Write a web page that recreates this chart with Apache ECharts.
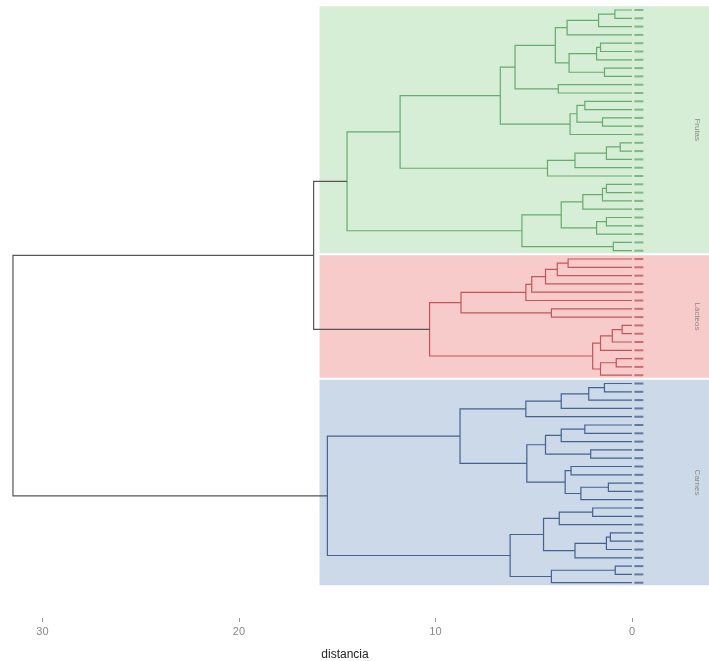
<!DOCTYPE html>
<html>
<head>
<meta charset="utf-8">
<script src="https://cdn.jsdelivr.net/npm/echarts@6/dist/echarts.min.js"></script>
<style>
  html, body { margin: 0; padding: 0; background: #fff; }
  #dend { width: 709px; height: 661px; }
</style>
</head>
<body>
<div id="dend"></div>
<script>
// sub-trees: a node is [upper, lower, height], a leaf is its row number (1 = top)
const greenTree = [
  [
    [
      [[[[[1, 2, 0.87], 3, 1.7], 4, 3.3], [[[5, 6, 1.6], 7, 1.8], [8, 9, 1.4], 3.2], 3.9], [10, 11, 3.75], 5.95],
      [[[12, 13, 2.4], [14, 15, 1.5], 2.8], 16, 3.15],
      6.7
    ],
    [[[[17, 18, 0.6], 19, 1.3], 20, 2.9], 21, 4.3],
    11.8
  ],
  [[[[[22, 23, 1.3], 24, 1.5], 25, 2.5], [[26, 27, 1.3], 28, 1.8], 3.6], [29, 30, 0.95], 5.6],
  14.5
]
const redTree = [
  [[[[[[31, 32, 3.25], 33, 3.8], 34, 4.4], 35, 5.1], 36, 5.4], [37, 38, 4.1], 8.7],
  [[[[39, 40, 0.5], 41, 1.0], 42, 1.6], [[43, 44, 0.8], 45, 1.6], 2.0],
  10.3
]
const blueTree = [
  [
    [[[[46, 47, 1.4], 48, 2.2], 49, 3.6], 50, 5.4],
    [[[[51, 52, 2.4], 53, 3.6], [54, 55, 2.1], 4.4], [[56, 57, 3.1], [[58, 59, 1.2], 60, 2.6], 3.4], 5.35],
    8.75
  ],
  [
    [[[61, 62, 2.0], 63, 3.7], [[[64, 65, 1.1], 66, 1.3], 67, 2.9], 4.5],
    [[68, 69, 0.85], 70, 4.1],
    6.2
  ],
  15.5
]
const upperHeight = 16.2   // green + red
const rootHeight = 31.5    // everything

const clusterNames = ['Frutas', 'Lácteos', 'Carnes']
const clusterFirst = [1, 31, 46]
const clusterLast = [30, 45, 70]
const rectHeight = 15.9
const xTicks = [0, 10, 20, 30]

const lineColors = ['#66ab6f', '#c2555b', '#46628f', '#555555']
const fillColors = ['#d5eed5', '#f8cbcb', '#cbd9e8']

// walk a tree and collect one segment per merge
const segments = []
function walk(node, ci) {
  if (typeof node === 'number') return { y: node, h: 0 }
  const a = walk(node[0], ci)
  const b = walk(node[1], ci)
  segments.push([node[2], a.y, b.y, a.h, b.h, ci])
  return { y: (a.y + b.y) / 2, h: node[2] }
}
const g = walk(greenTree, 0)
const r = walk(redTree, 1)
const bl = walk(blueTree, 2)
const up = { y: (g.y + r.y) / 2, h: upperHeight }
segments.push([upperHeight, g.y, r.y, g.h, r.h, 3])
segments.push([rootHeight, up.y, bl.y, up.h, bl.h, 3])

const leafPoints = []
for (let c = 0; c < 3; c++) {
  for (let k = clusterFirst[c]; k <= clusterLast[c]; k++) {
    leafPoints.push({ value: [-0.35, k], itemStyle: { color: lineColors[c] } })
  }
}
const rects = clusterNames.map(function (n, i) {
  return [clusterFirst[i] - 0.45, clusterLast[i] + 0.3, i]
})

const chart = echarts.init(document.getElementById('dend'))
chart.setOption({
  animation: false,
  grid: { left: 0, right: 0, top: 0, bottom: 43 },
  xAxis: {
    type: 'value',
    position: 'bottom',
    inverse: true,
    min: -3.92,
    max: 32.16,
    splitLine: { show: false },
    axisLine: { show: false, onZero: false },
    axisTick: { show: true, length: 4, customValues: xTicks, lineStyle: { color: '#999' } },
    axisLabel: { customValues: xTicks, color: '#8a8a8a', fontSize: 11, margin: 8, fontFamily: 'Liberation Sans' }
  },
  yAxis: {
    type: 'value',
    inverse: true,
    min: -0.205,
    max: 74.25,
    show: false
  },
  graphic: [{
    type: 'text',
    x: 345,
    y: 655,
    style: { text: 'distancia', fill: '#222', font: '12px "Liberation Sans"', align: 'center', verticalAlign: 'middle' }
  }],
  series: [
    {
      type: 'custom',
      z: 1,
      data: rects,
      encode: { x: [], y: [0, 1] },
      renderItem: function (params, api) {
        const i = api.value(2)
        const p1 = api.coord([rectHeight, api.value(0)])
        const p2 = api.coord([-3.92, api.value(1)])
        const mid = api.coord([-3.3, (api.value(0) + api.value(1)) / 2])
        return {
          type: 'group',
          children: [
            {
              type: 'rect',
              shape: { x: p1[0], y: p1[1], width: p2[0] - p1[0], height: p2[1] - p1[1] },
              style: { fill: fillColors[i] }
            },
            {
              type: 'text',
              x: mid[0],
              y: mid[1],
              rotation: -Math.PI / 2,
              style: {
                text: clusterNames[i],
                fill: '#8a8a8a',
                font: '8px "Liberation Sans"',
                align: 'center',
                verticalAlign: 'middle'
              }
            }
          ]
        }
      }
    },
    {
      type: 'custom',
      z: 3,
      data: segments,
      encode: { x: [0, 3, 4], y: [1, 2] },
      renderItem: function (params, api) {
        const h = api.value(0)
        const ya = api.value(1)
        const yb = api.value(2)
        const pts = [
          api.coord([api.value(3), ya]),
          api.coord([h, ya]),
          api.coord([h, yb]),
          api.coord([api.value(4), yb])
        ]
        return {
          type: 'polyline',
          shape: { points: pts },
          style: { stroke: lineColors[api.value(5)], lineWidth: 1.2, fill: null }
        }
      }
    },
    {
      type: 'scatter',
      z: 4,
      symbol: 'rect',
      symbolSize: [9, 2],
      data: leafPoints,
      silent: true
    }
  ]
})
</script>
</body>
</html>
